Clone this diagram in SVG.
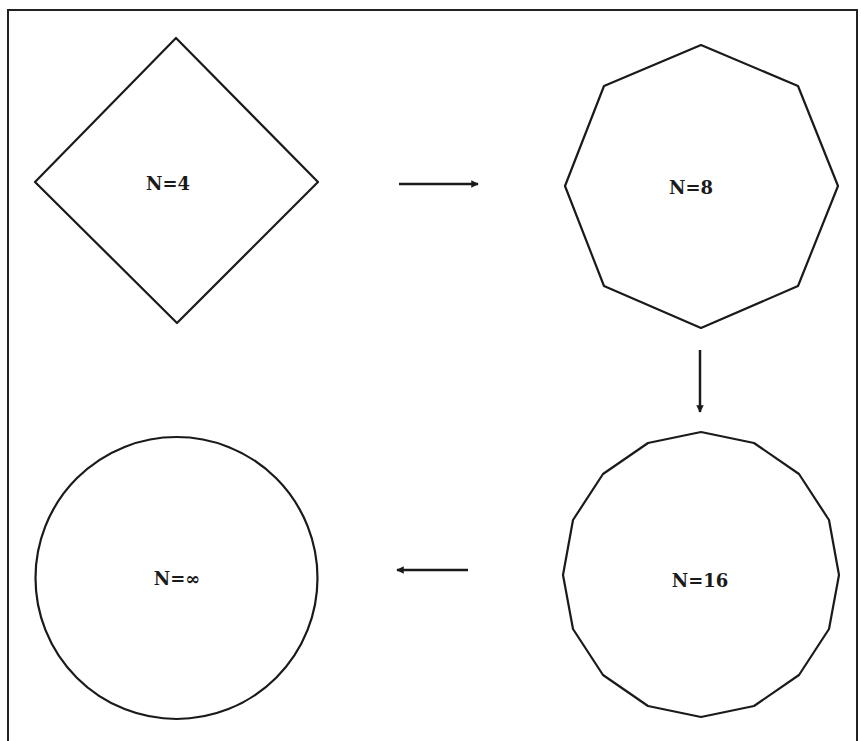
<svg xmlns="http://www.w3.org/2000/svg" width="861" height="741" viewBox="0 0 861 741">
<style>
.shape{fill:none;stroke:#1a1a1a;stroke-width:2.2;stroke-linejoin:round}
.lbl{font-family:"DejaVu Serif","Liberation Serif",serif;font-weight:bold;font-size:18px;fill:#1a1a1a;text-anchor:middle;dominant-baseline:central}
.conn{stroke:#1a1a1a;stroke-width:2.5;fill:none}
.frame{fill:none;stroke:#222;stroke-width:2}
</style>
<defs>
<marker id="ah" viewBox="0 0 10 10" refX="9" refY="5" markerWidth="4" markerHeight="3" orient="auto" markerUnits="strokeWidth">
<path d="M0,0 L10,5 L0,10 z" fill="#1a1a1a"/>
</marker>
</defs>
<rect width="861" height="741" fill="#fff"/>
<path class="frame" d="M8,760 L8,10 L857,10 L857,760"/>
<g id="n4">
<polygon class="shape" points="176,38 318,182 177,323 35,182"/>
<text class="lbl" x="168" y="183">N=4</text>
</g>
<g id="n8">
<polygon class="shape" points="701,45 798,86 838,186 798,286 701,328 604,286 565,186 604,86"/>
<text class="lbl" x="691" y="187">N=8</text>
</g>
<g id="n16">
<polygon class="shape" points="701,432 754,443 799,474 829,520 839,575 829,629 799,675 754,706 701,717 648,706 603,675 573,629 563,575 573,520 603,474 648,443"/>
<text class="lbl" x="700" y="580">N=16</text>
</g>
<g id="ninf">
<circle class="shape" cx="176.5" cy="578" r="141"/>
<text class="lbl" x="177" y="578">N=∞</text>
</g>
<g id="connectors">
<line class="conn" x1="399" y1="184" x2="478" y2="184" marker-end="url(#ah)"/>
<line class="conn" x1="700" y1="350" x2="700" y2="412" marker-end="url(#ah)"/>
<line class="conn" x1="468" y1="570" x2="397" y2="570" marker-end="url(#ah)"/>
</g>
</svg>
